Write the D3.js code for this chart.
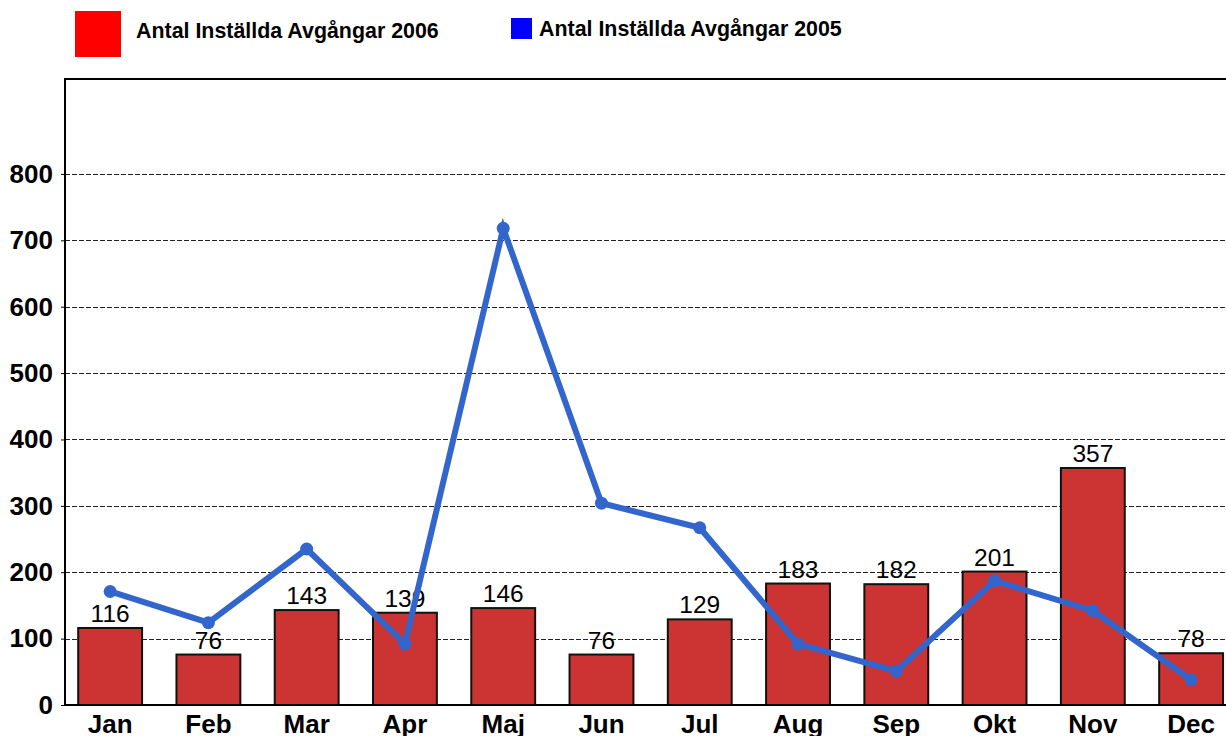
<!DOCTYPE html>
<html>
<head>
<meta charset="utf-8">
<script src="https://cdn.jsdelivr.net/npm/d3@7"></script>
<style>
  body { margin: 0; background: #fff; }
  svg { display: block; font-family: Arial, "Liberation Sans", Helvetica, sans-serif; }
</style>
</head>
<body>
<svg id="chart" width="1226" height="736"></svg>
<script>
const months = ["Jan","Feb","Mar","Apr","Maj","Jun","Jul","Aug","Sep","Okt","Nov","Dec"];
const values2006 = [116, 76, 143, 139, 146, 76, 129, 183, 182, 201, 357, 78];
const values2005 = [171, 124, 235, 92, 718, 304, 267, 92, 51, 187, 142, 38];
const yTicks = [0, 100, 200, 300, 400, 500, 600, 700, 800];
const legendLabels = ["Antal Inställda Avgångar 2006", "Antal Inställda Avgångar 2005"];

(function () {
const svg = d3.select("#chart");
const pLeft = 65, pTop = 79, pBottom = 705;
const FONT = "Arial, 'Liberation Sans', sans-serif";

const x = d3.scaleBand().domain(months).range([61, 61 + 12 * 98.27]).paddingInner(0.35).paddingOuter(0.175);
const y = d3.scaleLinear().domain([0, 943]).range([pBottom, pTop]);

// gridlines
svg.append("g").selectAll("line").data(yTicks.filter(d => d > 0)).join("line")
  .attr("x1", pLeft).attr("x2", 1226)
  .attr("y1", d => Math.round(y(d)) + 0.5).attr("y2", d => Math.round(y(d)) + 0.5)
  .attr("stroke", "#222").attr("stroke-width", 1).attr("stroke-dasharray", "5,2");

// frame top line
svg.append("line").attr("x1", pLeft).attr("x2", 1226).attr("y1", pTop).attr("y2", pTop)
  .attr("stroke", "#000").attr("stroke-width", 2);

// bars
svg.append("g").selectAll("rect").data(values2006).join("rect")
  .attr("x", (d, i) => x(months[i]))
  .attr("width", x.bandwidth())
  .attr("y", d => y(d))
  .attr("height", d => y(0) - y(d))
  .attr("fill", "#cc3333").attr("stroke", "#111").attr("stroke-width", 2);

// y axis
const yAxis = d3.axisLeft(y).tickValues(yTicks).tickSize(4).tickPadding(8).tickFormat(d3.format("d"));
const gy = svg.append("g").attr("transform", `translate(${pLeft},0)`).call(yAxis);
gy.select(".domain").remove();
gy.selectAll(".tick line").attr("stroke", "#000").attr("stroke-width", 1);
gy.selectAll(".tick text").attr("font-size", 26).attr("font-weight", "bold").attr("fill", "#000")
  .attr("font-family", FONT);
svg.append("line").attr("x1", pLeft).attr("x2", pLeft).attr("y1", pTop - 1).attr("y2", pBottom + 1)
  .attr("stroke", "#000").attr("stroke-width", 2);

// x axis
const xAxis = d3.axisBottom(x).tickSize(0).tickPadding(10);
const gx = svg.append("g").attr("transform", `translate(0,${pBottom})`).call(xAxis);
gx.select(".domain").remove();
gx.selectAll(".tick text").attr("font-size", 26).attr("font-weight", "bold").attr("fill", "#000")
  .attr("font-family", FONT);
svg.append("line").attr("x1", pLeft).attr("x2", 1226).attr("y1", pBottom).attr("y2", pBottom)
  .attr("stroke", "#000").attr("stroke-width", 2);

// bar value labels
svg.append("g").selectAll("text").data(values2006).join("text")
  .attr("x", (d, i) => x(months[i]) + x.bandwidth() / 2)
  .attr("y", d => y(d) - 6)
  .attr("text-anchor", "middle")
  .attr("font-size", 24.5).attr("fill", "#000").attr("font-family", FONT)
  .text(d => d);

// 2005 line
const cx = (i) => x(months[i]) + x.bandwidth() / 2;
const line = d3.line().x((d, i) => cx(i)).y(d => y(d));
svg.append("path").datum(values2005).attr("d", line)
  .attr("fill", "none").attr("stroke", "#3366cc").attr("stroke-width", 6)
  .attr("stroke-linejoin", "miter").attr("stroke-miterlimit", 6);
svg.append("g").selectAll("circle").data(values2005).join("circle")
  .attr("cx", (d, i) => cx(i)).attr("cy", d => y(d)).attr("r", 6.5)
  .attr("fill", "#3366cc");

// legend
svg.append("rect").attr("x", 75).attr("y", 11).attr("width", 46).attr("height", 46).attr("fill", "#ff0000");
svg.append("text").attr("x", 136).attr("y", 38).attr("font-size", 21.4).attr("font-weight", "bold")
  .attr("fill", "#000").attr("font-family", FONT).text(legendLabels[0]);
svg.append("rect").attr("x", 511).attr("y", 18).attr("width", 21).attr("height", 21).attr("fill", "#0000ff");
svg.append("text").attr("x", 539).attr("y", 36).attr("font-size", 21.4).attr("font-weight", "bold")
  .attr("fill", "#000").attr("font-family", FONT).text(legendLabels[1]);
})();
</script>
</body>
</html>
